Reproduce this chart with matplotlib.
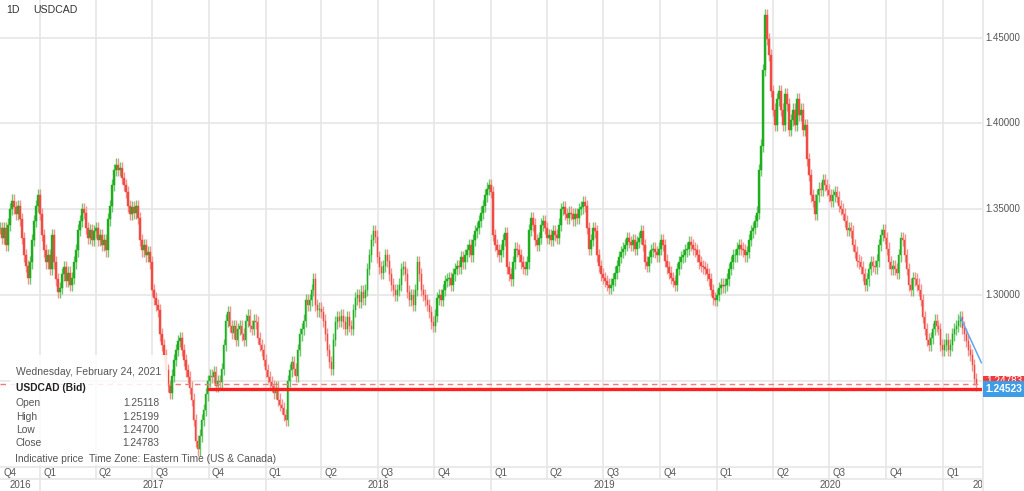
import matplotlib
matplotlib.use("Agg")
import matplotlib.pyplot as plt
import matplotlib.dates as mdates
import numpy as np
import pandas as pd
from matplotlib.patches import Rectangle
from matplotlib.lines import Line2D

plt.rcParams['font.family'] = ['Liberation Sans', 'DejaVu Sans']

# ---------------- data ----------------
symbol = "USDCAD"
interval = "1D"
first_date = "2016-10-28"
last_date = "2021-02-24"

closes_2016_2017 = [
    1.339, 1.333, 1.339, 1.329, 1.341, 1.350, 1.355, 1.351, 1.347, 1.352,
    1.344, 1.333, 1.323, 1.317, 1.310, 1.319, 1.332, 1.343, 1.352, 1.358,
    1.347, 1.335, 1.326, 1.319, 1.323, 1.315, 1.335, 1.319, 1.309, 1.302,
    1.304, 1.312, 1.316, 1.308, 1.313, 1.306, 1.310, 1.319, 1.326, 1.338,
    1.343, 1.350, 1.348, 1.339, 1.333, 1.338, 1.332, 1.337, 1.339, 1.332,
    1.335, 1.329, 1.332, 1.326, 1.344, 1.352, 1.364, 1.373, 1.376, 1.373,
    1.374, 1.368, 1.364, 1.360, 1.352, 1.347, 1.351, 1.348, 1.352, 1.345,
    1.332, 1.326, 1.329, 1.323, 1.325, 1.319, 1.303, 1.298, 1.294, 1.291,
    1.277, 1.271, 1.265, 1.256, 1.247, 1.243, 1.253, 1.262, 1.268, 1.273,
    1.275, 1.268, 1.262, 1.256, 1.252, 1.246, 1.239, 1.227, 1.215, 1.210,
    1.218, 1.227, 1.233, 1.242, 1.250, 1.253, 1.252, 1.255, 1.247, 1.250,
    1.249, 1.257, 1.271, 1.285, 1.290, 1.282, 1.278, 1.282, 1.274, 1.280,
    1.282, 1.277, 1.274, 1.285, 1.288,
]
closes_2018 = [
    1.282, 1.280, 1.285, 1.284, 1.275, 1.271, 1.268, 1.262, 1.256, 1.252,
    1.249, 1.247, 1.243, 1.246, 1.239, 1.236, 1.234, 1.230, 1.227, 1.250,
    1.256, 1.261, 1.257, 1.253, 1.268, 1.277, 1.280, 1.285, 1.297, 1.294,
    1.297, 1.303, 1.309, 1.294, 1.291, 1.292, 1.290, 1.285, 1.277, 1.268,
    1.261, 1.257, 1.274, 1.284, 1.287, 1.285, 1.288, 1.284, 1.280, 1.287,
    1.282, 1.280, 1.291, 1.298, 1.300, 1.296, 1.302, 1.298, 1.303, 1.315,
    1.323, 1.332, 1.337, 1.334, 1.322, 1.316, 1.313, 1.317, 1.323, 1.320,
    1.312, 1.306, 1.303, 1.300, 1.303, 1.306, 1.315, 1.316, 1.312, 1.302,
    1.297, 1.300, 1.294, 1.303, 1.319, 1.312, 1.303, 1.300, 1.297, 1.294,
    1.290, 1.284, 1.282, 1.288, 1.298, 1.300, 1.297, 1.303, 1.308, 1.309,
    1.310, 1.306, 1.312, 1.315, 1.317, 1.316, 1.322, 1.319, 1.323, 1.326,
    1.329, 1.323, 1.332, 1.337, 1.339, 1.343, 1.348, 1.352, 1.358, 1.362,
    1.364, 1.360,
]
closes_2019 = [
    1.335, 1.329, 1.326, 1.323, 1.326, 1.332, 1.336, 1.316, 1.312, 1.309,
    1.319, 1.327, 1.326, 1.323, 1.319, 1.316, 1.315, 1.319, 1.338, 1.345,
    1.341, 1.332, 1.329, 1.333, 1.341, 1.343, 1.339, 1.333, 1.335, 1.332,
    1.337, 1.335, 1.333, 1.341, 1.350, 1.351, 1.347, 1.345, 1.348, 1.347,
    1.344, 1.347, 1.345, 1.350, 1.351, 1.354, 1.352, 1.339, 1.327, 1.332,
    1.339, 1.337, 1.323, 1.317, 1.312, 1.310, 1.308, 1.306, 1.304, 1.306,
    1.309, 1.313, 1.317, 1.322, 1.325, 1.327, 1.329, 1.333, 1.331, 1.329,
    1.332, 1.327, 1.331, 1.333, 1.337, 1.329, 1.319, 1.317, 1.322, 1.326,
    1.327, 1.325, 1.323, 1.327, 1.332, 1.329, 1.320, 1.316, 1.313, 1.310,
    1.308, 1.306, 1.315, 1.319, 1.322, 1.323, 1.326, 1.327, 1.331, 1.329,
    1.327, 1.326, 1.323, 1.319, 1.317, 1.316, 1.315, 1.312, 1.309, 1.303,
    1.298, 1.297, 1.300, 1.304, 1.306, 1.305, 1.306, 1.309, 1.315, 1.319,
    1.323, 1.323, 1.327,
]
closes_2020_2021 = [
    1.329, 1.327, 1.326, 1.323, 1.325, 1.332, 1.337, 1.339, 1.343, 1.348,
    1.373, 1.387, 1.431, 1.463, 1.449, 1.440, 1.419, 1.408, 1.399, 1.414,
    1.419, 1.408, 1.399, 1.417, 1.411, 1.396, 1.402, 1.408, 1.399, 1.414,
    1.405, 1.408, 1.396, 1.399, 1.379, 1.370, 1.358, 1.355, 1.347, 1.358,
    1.362, 1.361, 1.367, 1.364, 1.361, 1.358, 1.355, 1.358, 1.360, 1.357,
    1.352, 1.350, 1.347, 1.343, 1.338, 1.339, 1.337, 1.329, 1.325, 1.320,
    1.319, 1.316, 1.312, 1.306, 1.309, 1.315, 1.319, 1.317, 1.316, 1.320,
    1.329, 1.335, 1.338, 1.333, 1.327, 1.319, 1.315, 1.317, 1.315, 1.313,
    1.323, 1.333, 1.332, 1.323, 1.315, 1.306, 1.303, 1.310, 1.309, 1.306,
    1.303, 1.297, 1.287, 1.280, 1.274, 1.271, 1.275, 1.280, 1.285, 1.282,
    1.280, 1.271, 1.268, 1.271, 1.274, 1.268, 1.271, 1.277, 1.280, 1.282,
    1.285, 1.287, 1.281, 1.277, 1.273, 1.268, 1.265, 1.259, 1.25118, 1.24783,
]
closes = closes_2016_2017 + closes_2018 + closes_2019 + closes_2020_2021

tooltip_date = "Wednesday, February 24, 2021"
tooltip_title = "USDCAD (Bid)"
ohlc_names = ["Open", "High", "Low", "Close"]
ohlc_values = ["1.25118", "1.25199", "1.24700", "1.24783"]
last_close = 1.24783
bid_price = 1.24523
ray_start = "2017-09-28"
trend_dates = ["2021-01-29", "2021-03-04"]
trend_prices = [1.2870, 1.2605]
price_ticks = [1.30, 1.35, 1.40, 1.45]
grid_prices = [1.25, 1.30, 1.35, 1.40, 1.45]
quarter_starts = pd.date_range("2016-10-01", "2021-01-01", freq="QS")
quarter_labels = ["Q%d" % q.quarter for q in quarter_starts]
year_labels = ["2016", "2017", "2018", "2019", "2020", "2021"]

# ---------------- style ----------------
GREEN = "#1fae1f"
RED = "#f04c44"
GRID = "#e6e6e6"
TXT = "#555555"
BLUE = "#3d9de6"
LINE_RED = "#ff1f1f"
WICK = 0.0036          # drawn wick extension beyond the body (style)
BODY_DAYS = 2.6        # body width in days

W, H = 1024, 491
PLOT_R, PLOT_B = 982, 466

def fx(px):
    return px / W

def fy(py):
    return 1 - py / H

fig = plt.figure(figsize=(W / 100, H / 100), dpi=100)
fig.patch.set_facecolor("white")
ax = fig.add_axes([0, (H - PLOT_B) / H, PLOT_R / W, PLOT_B / H])
x_min = mdates.date2num(pd.Timestamp("2016-10-28"))
x_max = mdates.date2num(pd.Timestamp("2021-03-05"))
dpp = (x_max - x_min) / PLOT_R  # days per pixel
ax.set_xlim(x_min, x_max)
ax.set_ylim(1.2003, 1.4719)
ax.set_axis_off()

# grid
q_nums = mdates.date2num(quarter_starts)
for qn in q_nums:
    if qn > x_min:
        ax.axvline(qn, color=GRID, lw=1.2, zorder=1)
for p in grid_prices:
    ax.axhline(p, color=GRID, lw=1.2, zorder=1)

# candles
dates = pd.date_range(first_date, last_date, periods=len(closes))
xd = mdates.date2num(dates)
c = np.array(closes)
o = np.r_[c[0], c[:-1]]
up = c >= o
cols = np.where(up, GREEN, RED)
wick_cols = np.where(up, "#6cc96c", "#f39490")
ax.vlines(xd, np.minimum(o, c) - WICK, np.maximum(o, c) + WICK,
          colors=wick_cols, lw=1.0, zorder=2)
ax.bar(xd, c - o, bottom=o, width=BODY_DAYS, color=cols, edgecolor=cols,
       linewidth=0.3, zorder=3)

# lines
ax.axhline(last_close, color="#f27a7a", lw=1.0, ls=(0, (4, 3)), zorder=4)
ax.hlines(bid_price, mdates.date2num(pd.Timestamp(ray_start)), x_max,
          color=LINE_RED, lw=2.4, zorder=5)
ax.plot(mdates.date2num(pd.to_datetime(trend_dates)), trend_prices,
        color="#5ea8ea", lw=1.1, zorder=5, clip_on=False)

# top-left title
fig.text(fx(6), fy(10), interval, fontsize=7.6, color="#333333", va="center")
fig.text(fx(33), fy(10), symbol, fontsize=7.6, color="#333333", va="center")

# price tick labels
for p in price_ticks:
    ax.text(985 / PLOT_R, p, "%.5f" % p, transform=ax.get_yaxis_transform(),
            fontsize=7, color=TXT, va="center", ha="left", clip_on=False)

# right border
fig.add_artist(Line2D([fx(982.5)] * 2, [0, 1], color=GRID, lw=1.2,
                      transform=fig.transFigure))

# price boxes
fig.add_artist(Rectangle((fx(983), fy(388)), 41 / W, 12 / H, transform=fig.transFigure,
                         facecolor="#ee3b3b", edgecolor="none", zorder=6))
fig.text(fx(1004), fy(381.5), "%.5f" % last_close, fontsize=7.2, color="white",
         ha="center", va="center", zorder=7)
fig.add_artist(Rectangle((fx(983), fy(397)), 41 / W, 16 / H, transform=fig.transFigure,
                         facecolor=BLUE, edgecolor="none", zorder=8))
fig.text(fx(1004), fy(389.5), "%.5f" % bid_price, fontsize=7.4, color="white",
         ha="center", va="center", fontweight="bold", zorder=9)

# bottom time axis
axb = fig.add_axes([0, 0, PLOT_R / W, (H - PLOT_B) / H])
axb.set_xlim(x_min, x_max)
axb.set_ylim(0, H - PLOT_B)
axb.set_axis_off()
axb.axhline(H - PLOT_B - 0.5, color=GRID, lw=1.2)
axb.axhline(12, color=GRID, lw=1.2)
for qn, lab in zip(q_nums, quarter_labels):
    if qn > x_min:
        axb.vlines(qn, 12, H - PLOT_B, color=GRID, lw=1.2)
    axb.text(max(qn, x_min) + 3 * dpp, 18.5, lab, fontsize=7, color=TXT,
             ha="left", va="center", clip_on=True)
for yl in year_labels:
    ys = mdates.date2num(pd.Timestamp(yl + "-01-01"))
    ye = mdates.date2num(pd.Timestamp(str(int(yl) + 1) + "-01-01"))
    if ys > x_min:
        axb.vlines(ys, 0, 12, color=GRID, lw=1.2)
    s = max(ys, x_min)
    e = min(ye, x_max + 42 * dpp)
    axb.text((s + e) / 2, 6, yl, fontsize=7, color=TXT, ha="center",
             va="center", clip_on=True)

# tooltip
fig.add_artist(Rectangle((fx(10), fy(465)), 158 / W, 110 / H, transform=fig.transFigure,
                         facecolor="white", alpha=0.86, edgecolor="none", zorder=5))
fig.text(fx(16), fy(372), tooltip_date, fontsize=7.5, color=TXT, va="center", zorder=6)
fig.text(fx(16), fy(388), tooltip_title, fontsize=7.4, color="#222222",
         fontweight="bold", va="center", zorder=6)
for i, (nm, val) in enumerate(zip(ohlc_names, ohlc_values)):
    yy = [403, 416.5, 430, 443.5][i]
    fig.text(fx(16), fy(yy), nm, fontsize=7.4, color=TXT, va="center", zorder=6)
    fig.text(fx(159), fy(yy), val, fontsize=7.4, color=TXT, va="center",
             ha="right", zorder=6)
fig.text(fx(15), fy(459), "Indicative price", fontsize=7.4, color=TXT, va="center", zorder=6)
fig.text(fx(89), fy(459), "Time Zone: Eastern Time (US & Canada)", fontsize=7.4,
         color=TXT, va="center", zorder=6)

fig.savefig("out.png", dpi=100, facecolor="white")
